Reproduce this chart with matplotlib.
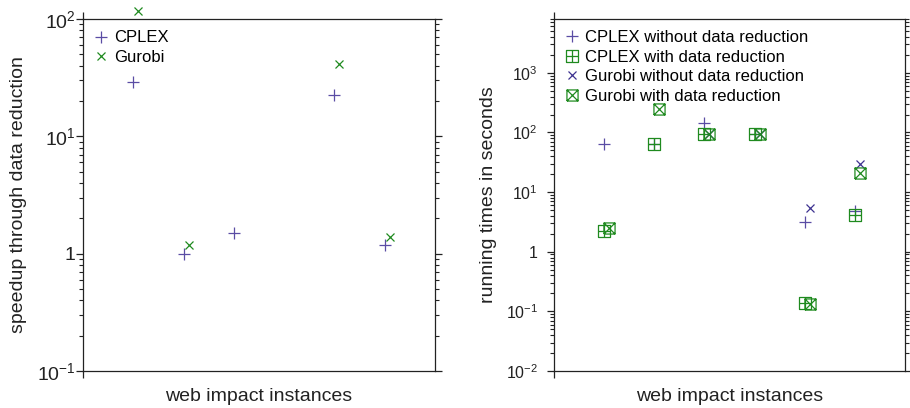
import numpy as np
import matplotlib
matplotlib.use("Agg")
import matplotlib.pyplot as plt
from matplotlib.path import Path
from matplotlib.ticker import FixedLocator, LogLocator, NullFormatter, FixedFormatter

plt.rcParams['font.family'] = ['Liberation Sans', 'DejaVu Sans']
plt.rcParams['mathtext.fontset'] = 'custom'
plt.rcParams['mathtext.rm'] = 'Liberation Sans'

nan = np.nan
instances = [1, 2, 3, 4, 5, 6]
speedup_cplex = [28.9, 0.99, 1.49, nan, 22.5, 1.19]
speedup_gurobi = [118, 1.19, nan, nan, 41.2, 1.40]

cplex_without = [65, 65, 143, 93.6, 3.2, 4.9]
cplex_with = [2.23, 65, 93.6, 93.6, 0.14, 4.1]
gurobi_without = [nan, nan, 93.6, 93.6, 5.5, 29.4]
gurobi_with = [2.51, 246, 93.6, 93.6, 0.133, 20.7]

left_ticks = [0.1, 1, 10, 100]
left_ticklabels = [r'$\mathdefault{10^{-1}}$', '1', r'$\mathdefault{10^{1}}$', r'$\mathdefault{10^{2}}$']
right_ticks = [0.01, 0.1, 1, 10, 100, 1000]
right_ticklabels = [r'$\mathdefault{10^{-2}}$', r'$\mathdefault{10^{-1}}$', '1',
                    r'$\mathdefault{10^{1}}$', r'$\mathdefault{10^{2}}$', r'$\mathdefault{10^{3}}$']

PURPLE = '#5a4ca4'
PURPLE2 = '#3d3290'
GREEN = '#1f8a1f'
TXT = '#222222'
GOFF = 0.1

M, L = Path.MOVETO, Path.LINETO
sq = [(-1, -1), (1, -1), (1, 1), (-1, 1), (-1, -1)]
sq_codes = [M, L, L, L, L]
box_plus = Path(sq + [(0, -1), (0, 1), (-1, 0), (1, 0)], sq_codes + [M, L, M, L])
box_cross = Path(sq + [(-1, -1), (1, 1), (-1, 1), (1, -1)], sq_codes + [M, L, M, L])

fig = plt.figure(figsize=(9.10, 4.08), dpi=100)
W, H = 910, 408
ax1 = fig.add_axes([83 / W, 1 - 371 / H, 352 / W, 352 / H])
ax2 = fig.add_axes([554 / W, 1 - 371 / H, 351 / W, 352 / H])

x = np.array(instances, dtype=float)

ax1.plot(x, speedup_cplex, ls='none', marker='+', ms=8, mew=0.9, color=PURPLE,
         label='CPLEX', clip_on=False)
ax1.plot(x + GOFF, speedup_gurobi, ls='none', marker='x', ms=6, mew=0.9, color=GREEN,
         label='Gurobi', clip_on=False)

ax2.plot(x, cplex_without, ls='none', marker='+', ms=8, mew=0.9, color=PURPLE,
         label='CPLEX without data reduction', clip_on=False)
ax2.plot(x, cplex_with, ls='none', marker=box_plus, ms=8, mew=0.9, mfc='none', color=GREEN,
         label='CPLEX with data reduction', clip_on=False)
ax2.plot(x + GOFF, gurobi_without, ls='none', marker='x', ms=6, mew=0.9, color=PURPLE2,
         label='Gurobi without data reduction', clip_on=False)
ax2.plot(x + GOFF, gurobi_with, ls='none', marker=box_cross, ms=8, mew=0.9, mfc='none', color=GREEN,
         label='Gurobi with data reduction', clip_on=False)

for ax, ylo, yhi, ticks, labels, lsize, lpad in [
        (ax1, 0.1, 100, left_ticks, left_ticklabels, 14, 0.5),
        (ax2, 0.01, 8000, right_ticks, right_ticklabels, 11.5, 6.5)]:
    ax.set_yscale('log')
    ax.set_ylim(ylo, yhi)
    ax.set_xlim(0, 7)
    ax.yaxis.set_major_locator(FixedLocator(ticks))
    ax.yaxis.set_major_formatter(FixedFormatter(labels))
    ax.yaxis.set_minor_locator(LogLocator(base=10, subs=np.arange(2, 10)))
    ax.yaxis.set_minor_formatter(NullFormatter())
    ax.set_xticks([0])
    ax.set_xticklabels([])
    ax.tick_params(axis='y', which='major', direction='out', length=5, width=0.9,
                   left=True, right=True, labelsize=lsize, pad=lpad, colors=TXT)
    ax.tick_params(axis='y', which='minor', direction='out', length=3, width=0.8,
                   left=True, right=True, colors=TXT)
    ax.tick_params(axis='x', which='major', direction='out', length=5, width=0.9,
                   top=True, bottom=True, colors=TXT)
    for s in ax.spines.values():
        s.set_linewidth(0.9)
        s.set_color(TXT)
    ax.set_xlabel('web impact instances', fontsize=14, labelpad=3.5, color=TXT)

ax1.set_ylabel('speedup through data reduction', fontsize=14, labelpad=7, color=TXT)
ax2.set_ylabel('running times in seconds', fontsize=14, labelpad=6.5, color=TXT)

for ax in (ax1, ax2):
    ax.legend(loc='upper left', frameon=False, fontsize=12, handlelength=0.8,
              handletextpad=0.38, labelspacing=0.27, borderaxespad=0.48, borderpad=0.2)

fig.savefig('out.png', dpi=100)
